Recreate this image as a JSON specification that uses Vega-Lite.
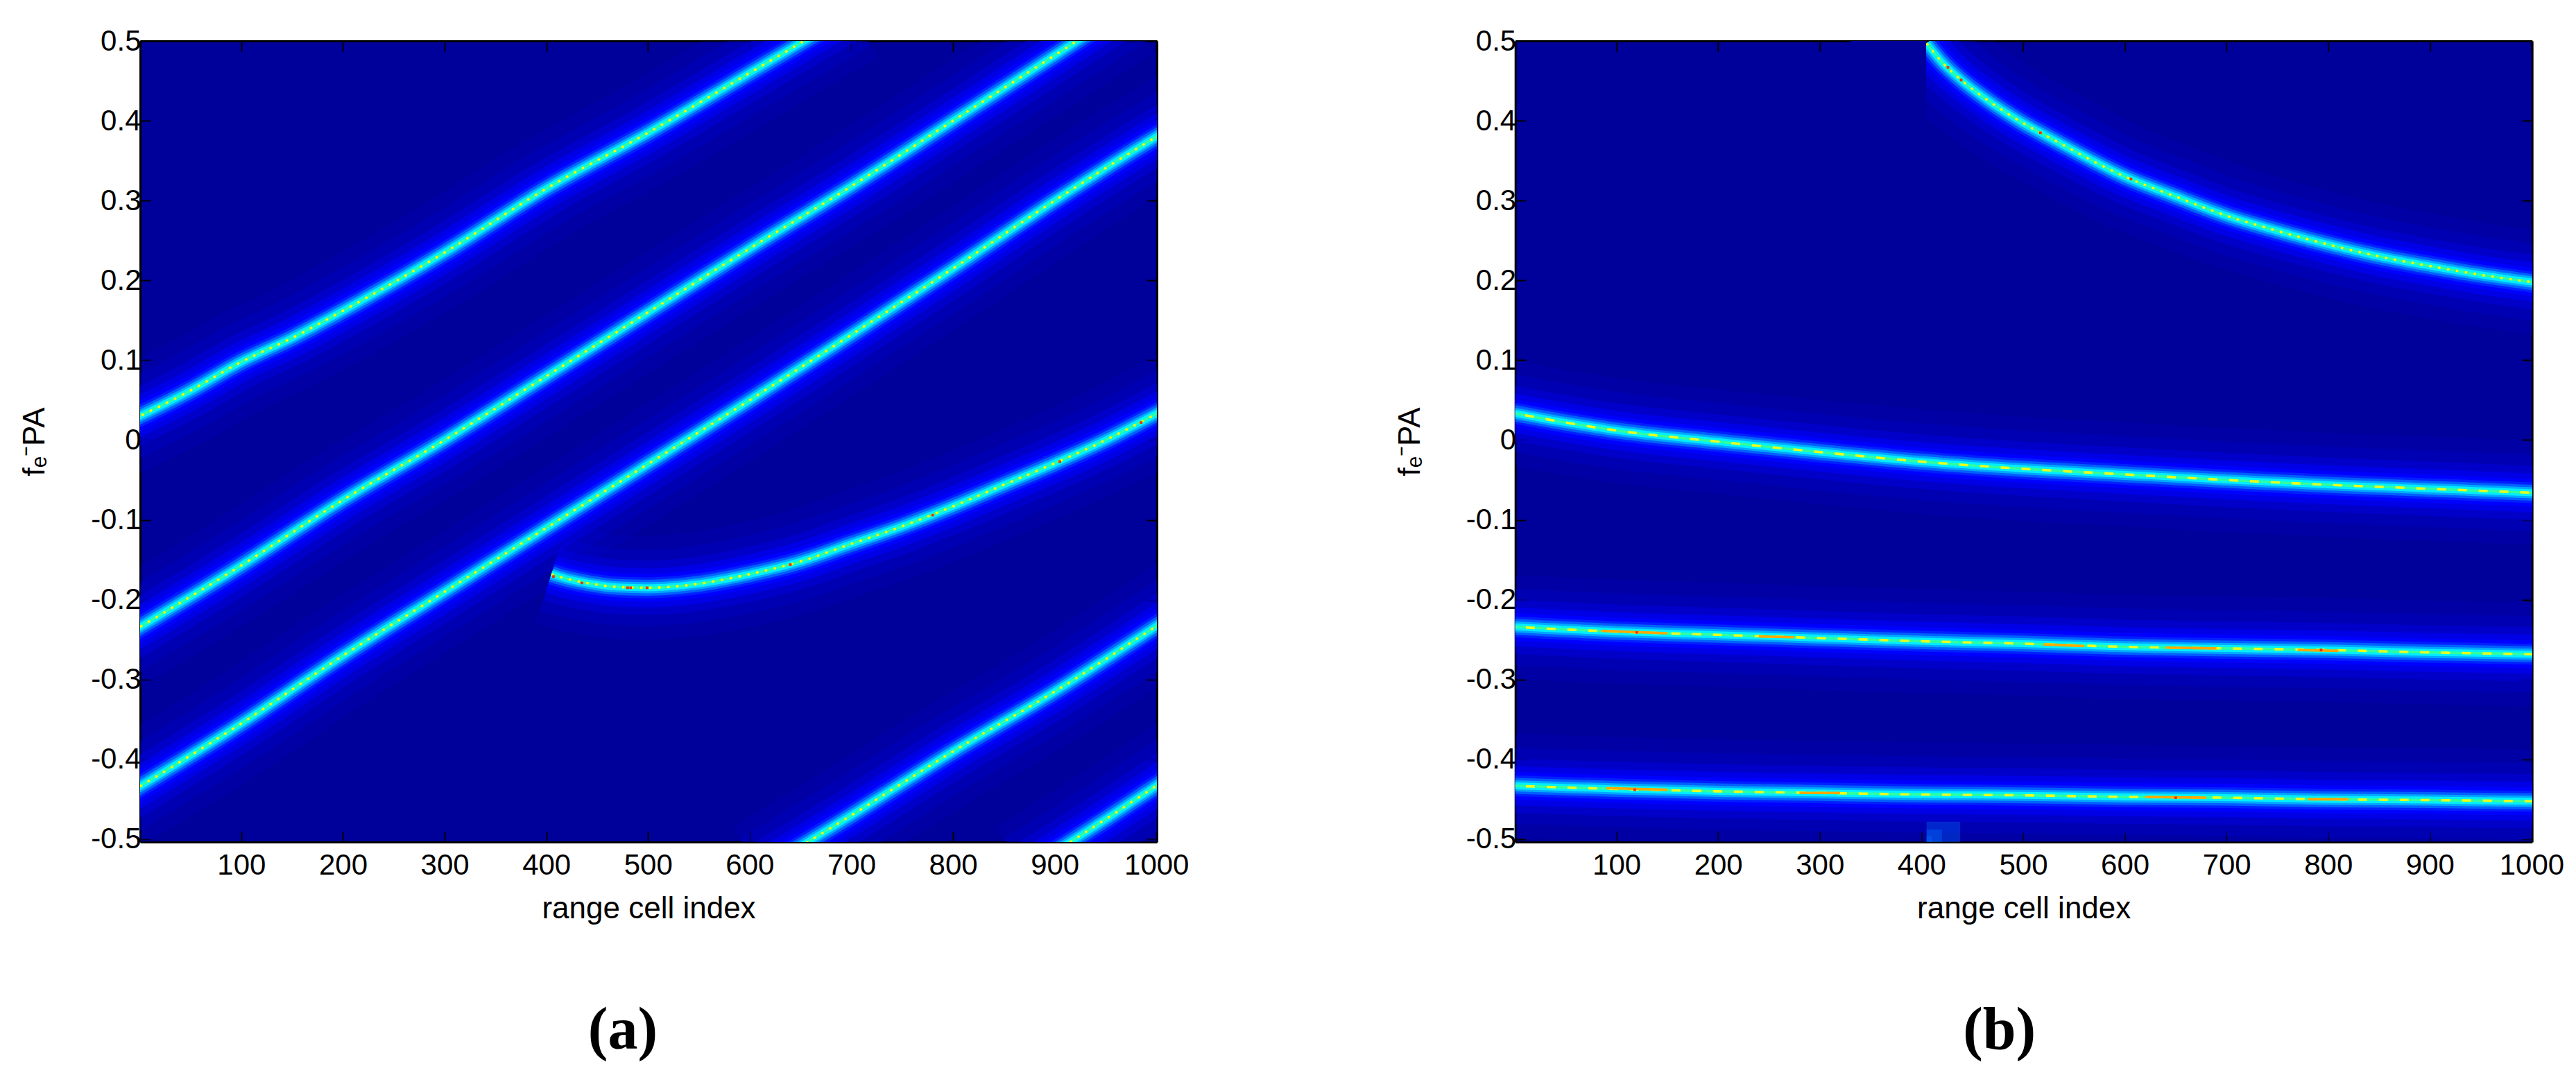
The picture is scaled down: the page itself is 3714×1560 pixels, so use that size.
{
  "$schema": "https://vega.github.io/schema/vega-lite/v6.json",
  "background": "white",
  "padding": {"left": 28, "top": 38, "right": 10, "bottom": 20},
  "config": {
    "view": {"stroke": null, "fill": "#00009a"},
    "line": {"strokeCap": "butt", "interpolate": "monotone"},
    "axis": {"labelFont": "Liberation Sans", "labelFontSize": 42, "labelColor": "black", "labelFontWeight": "normal", "titleFont": "Liberation Sans", "titleFontSize": 44, "titleFontWeight": "normal", "titleColor": "black", "tickColor": "black", "tickWidth": 2, "tickSize": -15, "domainColor": "black", "domainWidth": 3, "grid": false, "zindex": 1, "labelFlush": false, "labelOverlap": false, "format": "d"}
  },
  "datasets": {
    "linesA": [
      {"line": "A", "x": -30, "y": 0.012}, {"line": "A", "x": 50, "y": 0.062}, {"line": "A", "x": 100, "y": 0.098}, {"line": "A", "x": 150, "y": 0.128}, {"line": "A", "x": 200, "y": 0.162}, {"line": "A", "x": 300, "y": 0.235}, {"line": "A", "x": 400, "y": 0.315}, {"line": "A", "x": 500, "y": 0.385}, {"line": "A", "x": 600, "y": 0.46}, {"line": "A", "x": 700, "y": 0.535},
      {"line": "B", "x": -30, "y": -0.257}, {"line": "B", "x": 100, "y": -0.157}, {"line": "B", "x": 200, "y": -0.075}, {"line": "B", "x": 300, "y": 0.0}, {"line": "B", "x": 400, "y": 0.08}, {"line": "B", "x": 500, "y": 0.16}, {"line": "B", "x": 600, "y": 0.24}, {"line": "B", "x": 700, "y": 0.318}, {"line": "B", "x": 800, "y": 0.4}, {"line": "B", "x": 900, "y": 0.482}, {"line": "B", "x": 970, "y": 0.54},
      {"line": "C", "x": -30, "y": -0.457}, {"line": "C", "x": 100, "y": -0.355}, {"line": "C", "x": 200, "y": -0.27}, {"line": "C", "x": 300, "y": -0.19}, {"line": "C", "x": 400, "y": -0.11}, {"line": "C", "x": 500, "y": -0.03}, {"line": "C", "x": 600, "y": 0.05}, {"line": "C", "x": 700, "y": 0.132}, {"line": "C", "x": 800, "y": 0.215}, {"line": "C", "x": 900, "y": 0.3}, {"line": "C", "x": 1000, "y": 0.38}, {"line": "C", "x": 1040, "y": 0.41},
      {"line": "D", "x": 405, "y": -0.168}, {"line": "D", "x": 418, "y": -0.173}, {"line": "D", "x": 440, "y": -0.179}, {"line": "D", "x": 470, "y": -0.184}, {"line": "D", "x": 500, "y": -0.185}, {"line": "D", "x": 550, "y": -0.18}, {"line": "D", "x": 600, "y": -0.168}, {"line": "D", "x": 650, "y": -0.152}, {"line": "D", "x": 700, "y": -0.13}, {"line": "D", "x": 750, "y": -0.108}, {"line": "D", "x": 800, "y": -0.083}, {"line": "D", "x": 850, "y": -0.056}, {"line": "D", "x": 900, "y": -0.029}, {"line": "D", "x": 950, "y": 0.0}, {"line": "D", "x": 1000, "y": 0.033}, {"line": "D", "x": 1040, "y": 0.06},
      {"line": "E", "x": 610, "y": -0.54}, {"line": "E", "x": 700, "y": -0.47}, {"line": "E", "x": 800, "y": -0.39}, {"line": "E", "x": 900, "y": -0.315}, {"line": "E", "x": 1000, "y": -0.233}, {"line": "E", "x": 1040, "y": -0.2},
      {"line": "F", "x": 870, "y": -0.54}, {"line": "F", "x": 950, "y": -0.475}, {"line": "F", "x": 1000, "y": -0.433}, {"line": "F", "x": 1040, "y": -0.4}
    ],
    "linesB": [
      {"line": "R1", "x": 405, "y": 0.497}, {"line": "R1", "x": 419, "y": 0.475}, {"line": "R1", "x": 440, "y": 0.45}, {"line": "R1", "x": 467, "y": 0.424}, {"line": "R1", "x": 496, "y": 0.4}, {"line": "R1", "x": 533, "y": 0.374}, {"line": "R1", "x": 600, "y": 0.33}, {"line": "R1", "x": 650, "y": 0.305}, {"line": "R1", "x": 700, "y": 0.281}, {"line": "R1", "x": 750, "y": 0.262}, {"line": "R1", "x": 800, "y": 0.245}, {"line": "R1", "x": 850, "y": 0.23}, {"line": "R1", "x": 900, "y": 0.218}, {"line": "R1", "x": 950, "y": 0.207}, {"line": "R1", "x": 1000, "y": 0.198}, {"line": "R1", "x": 1040, "y": 0.191},
      {"line": "R2", "x": -30, "y": 0.041}, {"line": "R2", "x": 50, "y": 0.022}, {"line": "R2", "x": 100, "y": 0.012}, {"line": "R2", "x": 200, "y": -0.002}, {"line": "R2", "x": 300, "y": -0.015}, {"line": "R2", "x": 400, "y": -0.027}, {"line": "R2", "x": 500, "y": -0.036}, {"line": "R2", "x": 600, "y": -0.043}, {"line": "R2", "x": 700, "y": -0.05}, {"line": "R2", "x": 800, "y": -0.056}, {"line": "R2", "x": 900, "y": -0.061}, {"line": "R2", "x": 1040, "y": -0.068},
      {"line": "R3", "x": -30, "y": -0.232}, {"line": "R3", "x": 100, "y": -0.24}, {"line": "R3", "x": 200, "y": -0.244}, {"line": "R3", "x": 300, "y": -0.248}, {"line": "R3", "x": 400, "y": -0.252}, {"line": "R3", "x": 500, "y": -0.255}, {"line": "R3", "x": 600, "y": -0.259}, {"line": "R3", "x": 700, "y": -0.261}, {"line": "R3", "x": 800, "y": -0.263}, {"line": "R3", "x": 900, "y": -0.266}, {"line": "R3", "x": 1040, "y": -0.269},
      {"line": "R4", "x": -30, "y": -0.432}, {"line": "R4", "x": 100, "y": -0.437}, {"line": "R4", "x": 200, "y": -0.44}, {"line": "R4", "x": 300, "y": -0.442}, {"line": "R4", "x": 400, "y": -0.444}, {"line": "R4", "x": 500, "y": -0.445}, {"line": "R4", "x": 600, "y": -0.447}, {"line": "R4", "x": 700, "y": -0.448}, {"line": "R4", "x": 800, "y": -0.45}, {"line": "R4", "x": 900, "y": -0.451}, {"line": "R4", "x": 1040, "y": -0.453}
    ],
    "hotA": [
      {"x": 407, "y": -0.171}, {"x": 435, "y": -0.179}, {"x": 480, "y": -0.185}, {"x": 483, "y": -0.185}, {"x": 499, "y": -0.185}, {"x": 640, "y": -0.156}, {"x": 780, "y": -0.094}, {"x": 905, "y": -0.027}, {"x": 985, "y": 0.022}
    ],
    "hotB": [
      {"x": 426, "y": 0.467}, {"x": 439, "y": 0.451}, {"x": 517, "y": 0.385}, {"x": 606, "y": 0.327}, {"x": 120, "y": -0.241}, {"x": 118, "y": -0.438}, {"x": 650, "y": -0.448}, {"x": 793, "y": -0.263}
    ],
    "streaksB": [
      {"id": 1, "x": 85, "y": -0.239}, {"id": 1, "x": 150, "y": -0.242},
      {"id": 2, "x": 240, "y": -0.246}, {"id": 2, "x": 275, "y": -0.247},
      {"id": 3, "x": 520, "y": -0.256}, {"id": 3, "x": 560, "y": -0.258},
      {"id": 4, "x": 640, "y": -0.26}, {"id": 4, "x": 690, "y": -0.261},
      {"id": 5, "x": 770, "y": -0.263}, {"id": 5, "x": 810, "y": -0.264},
      {"id": 6, "x": 90, "y": -0.436}, {"id": 6, "x": 150, "y": -0.438},
      {"id": 7, "x": 280, "y": -0.442}, {"id": 7, "x": 320, "y": -0.442},
      {"id": 8, "x": 620, "y": -0.447}, {"id": 8, "x": 680, "y": -0.448},
      {"id": 9, "x": 780, "y": -0.45}, {"id": 9, "x": 820, "y": -0.45}
    ],
    "stripes": [
      {"x": 0.5, "x2": 15, "level": 2}, {"x": 15, "x2": 30, "level": 6}, {"x": 30, "x2": 52, "level": 3}, {"x": 52, "x2": 66, "level": 7}, {"x": 66, "x2": 90, "level": 4}, {"x": 90, "x2": 104, "level": 1}, {"x": 104, "x2": 130, "level": 5}, {"x": 130, "x2": 142, "level": 8}, {"x": 142, "x2": 170, "level": 3}, {"x": 170, "x2": 190, "level": 6}, {"x": 190, "x2": 214, "level": 2}, {"x": 214, "x2": 232, "level": 5}, {"x": 232, "x2": 260, "level": 3}, {"x": 260, "x2": 275, "level": 7}, {"x": 275, "x2": 300, "level": 2}, {"x": 300, "x2": 322, "level": 6}, {"x": 322, "x2": 345, "level": 4}, {"x": 345, "x2": 360, "level": 1}, {"x": 360, "x2": 388, "level": 5}, {"x": 388, "x2": 410, "level": 3},
      {"x": 410, "x2": 428, "level": 7}, {"x": 428, "x2": 452, "level": 2}, {"x": 452, "x2": 470, "level": 5}, {"x": 470, "x2": 496, "level": 3}, {"x": 496, "x2": 510, "level": 8}, {"x": 510, "x2": 536, "level": 2}, {"x": 536, "x2": 556, "level": 6}, {"x": 556, "x2": 580, "level": 3}, {"x": 580, "x2": 596, "level": 5}, {"x": 596, "x2": 622, "level": 1}, {"x": 622, "x2": 640, "level": 6}, {"x": 640, "x2": 668, "level": 3}, {"x": 668, "x2": 684, "level": 7}, {"x": 684, "x2": 710, "level": 2}, {"x": 710, "x2": 730, "level": 5}, {"x": 730, "x2": 752, "level": 3}, {"x": 752, "x2": 770, "level": 6}, {"x": 770, "x2": 796, "level": 2},
      {"x": 796, "x2": 812, "level": 7}, {"x": 812, "x2": 838, "level": 4}, {"x": 838, "x2": 856, "level": 1}, {"x": 856, "x2": 880, "level": 5}, {"x": 880, "x2": 902, "level": 3}, {"x": 902, "x2": 920, "level": 7}, {"x": 920, "x2": 946, "level": 2}, {"x": 946, "x2": 966, "level": 5}, {"x": 966, "x2": 984, "level": 3}, {"x": 984, "x2": 1000.5, "level": 6}
    ],
    "cutB": [
      {"x": 330, "x2": 404.5, "ya": 0.38, "yb": 0.5}
    ],
    "smearB": [
      {"x": 405, "x2": 438, "ya": -0.5035, "yb": -0.478},
      {"x": 405, "x2": 420, "ya": -0.5035, "yb": -0.488},
      {"x": 405, "x2": 410, "ya": -0.5035, "yb": -0.496}
    ]
  },
  "hconcat": [
    {
      "width": 1466,
      "height": 1155,
      "title": {"text": "(a)", "orient": "bottom", "anchor": "middle", "font": "Liberation Serif", "fontSize": 86, "fontWeight": "bold", "color": "black", "dx": -37, "offset": 112},
      "encoding": {
        "x": {"field": "x", "type": "quantitative", "scale": {"domain": [0.5, 1000.5], "nice": false, "zero": false}, "axis": null},
        "y": {"field": "y", "type": "quantitative", "scale": {"domain": [-0.5035, 0.5], "nice": false, "zero": false}, "axis": null},
        "detail": {"field": "line"}
      },
      "layer": [
        {
          "data": {"name": "stripes"},
          "mark": {"type": "bar", "clip": true},
          "encoding": {
            "x": {"field": "x", "type": "quantitative", "scale": {"domain": [0.5, 1000.5], "nice": false, "zero": false}, "axis": {"orient": "bottom", "values": [100, 200, 300, 400, 500, 600, 700, 800, 900, 1000], "title": "range cell index", "labelPadding": 28, "titlePadding": 20}},
            "x2": {"field": "x2"},
            "y": {"datum": 0.5, "type": "quantitative", "scale": {"domain": [-0.5035, 0.5], "nice": false, "zero": false}, "axis": {"orient": "left", "values": [-0.5, -0.4, -0.3, -0.2, -0.1, 0, 0.1, 0.2, 0.3, 0.4, 0.5], "labelExpr": "'' + datum.value", "title": "fₑ⁻PA", "labelPadding": 14, "titlePadding": 58}},
            "y2": {"datum": -0.5035},
            "detail": {"field": "level"},
            "color": {"field": "level", "type": "quantitative", "scale": {"domain": [1, 8], "range": ["#00008e", "#0000a8"]}, "legend": null}
          }
        },
        {"data": {"name": "linesA"}, "mark": {"type": "line", "clip": true, "strokeWidth": 150, "color": "#0000c8", "opacity": 0.22}},
        {"data": {"name": "linesA"}, "mark": {"type": "line", "clip": true, "strokeWidth": 110, "color": "#0000d0", "opacity": 0.35}},
        {"data": {"name": "linesA"}, "mark": {"type": "line", "clip": true, "strokeWidth": 78, "color": "#0000e0", "opacity": 0.5}},
        {"data": {"name": "linesA"}, "mark": {"type": "line", "clip": true, "strokeWidth": 56, "color": "#0000f0", "opacity": 0.75}},
        {"data": {"name": "linesA"}, "mark": {"type": "line", "clip": true, "strokeWidth": 40, "color": "#0000ff"}},
        {"data": {"name": "linesA"}, "mark": {"type": "line", "clip": true, "strokeWidth": 30, "color": "#0020ff"}},
        {"data": {"name": "linesA"}, "mark": {"type": "line", "clip": true, "strokeWidth": 23, "color": "#0060ff"}},
        {"data": {"name": "linesA"}, "mark": {"type": "line", "clip": true, "strokeWidth": 16, "color": "#00a8ff"}},
        {"data": {"name": "linesA"}, "mark": {"type": "line", "clip": true, "strokeWidth": 10, "color": "#00eeff"}},
        {"data": {"name": "linesA"}, "mark": {"type": "line", "clip": true, "strokeWidth": 3.6, "color": "#30ffa0"}},
        {"data": {"name": "linesA"}, "mark": {"type": "line", "clip": true, "strokeWidth": 3.6, "color": "#f0ff10", "strokeDash": [3.4, 9.6]}},
        {
          "data": {"name": "hotA"},
          "mark": {"type": "point", "shape": "square", "filled": true, "size": 14, "color": "#f03000", "opacity": 1},
          "encoding": {
            "x": {"field": "x", "type": "quantitative", "scale": {"domain": [0.5, 1000.5], "nice": false, "zero": false}, "axis": {"orient": "top", "values": [100, 200, 300, 400, 500, 600, 700, 800, 900, 1000], "labels": false, "title": null}},
            "y": {"field": "y", "type": "quantitative", "scale": {"domain": [-0.5035, 0.5], "nice": false, "zero": false}, "axis": {"orient": "right", "values": [-0.5, -0.4, -0.3, -0.2, -0.1, 0, 0.1, 0.2, 0.3, 0.4, 0.5], "labels": false, "title": null}},
            "detail": {"field": "x"}
          }
        }
      ],
      "resolve": {"axis": {"x": "independent", "y": "independent"}}
    },
    {
      "width": 1466,
      "height": 1155,
      "title": {"text": "(b)", "orient": "bottom", "anchor": "middle", "font": "Liberation Serif", "fontSize": 86, "fontWeight": "bold", "color": "black", "dx": -35, "offset": 112},
      "encoding": {
        "x": {"field": "x", "type": "quantitative", "scale": {"domain": [0.5, 1000.5], "nice": false, "zero": false}, "axis": null},
        "y": {"field": "y", "type": "quantitative", "scale": {"domain": [-0.5035, 0.5], "nice": false, "zero": false}, "axis": null},
        "detail": {"field": "line"}
      },
      "layer": [
        {
          "data": {"name": "stripes"},
          "mark": {"type": "bar", "clip": true},
          "encoding": {
            "x": {"field": "x", "type": "quantitative", "scale": {"domain": [0.5, 1000.5], "nice": false, "zero": false}, "axis": {"orient": "bottom", "values": [100, 200, 300, 400, 500, 600, 700, 800, 900, 1000], "title": "range cell index", "labelPadding": 28, "titlePadding": 20}},
            "x2": {"field": "x2"},
            "y": {"datum": 0.5, "type": "quantitative", "scale": {"domain": [-0.5035, 0.5], "nice": false, "zero": false}, "axis": {"orient": "left", "values": [-0.5, -0.4, -0.3, -0.2, -0.1, 0, 0.1, 0.2, 0.3, 0.4, 0.5], "labelExpr": "'' + datum.value", "title": "fₑ⁻PA", "labelPadding": 14, "titlePadding": 58}},
            "y2": {"datum": -0.5035},
            "detail": {"field": "level"},
            "color": {"field": "level", "type": "quantitative", "scale": {"domain": [1, 8], "range": ["#00008e", "#0000a8"]}, "legend": null}
          }
        },
        {"data": {"name": "linesB"}, "mark": {"type": "line", "clip": true, "strokeWidth": 150, "color": "#0000c8", "opacity": 0.22}},
        {"data": {"name": "linesB"}, "mark": {"type": "line", "clip": true, "strokeWidth": 110, "color": "#0000d0", "opacity": 0.35}},
        {"data": {"name": "linesB"}, "mark": {"type": "line", "clip": true, "strokeWidth": 78, "color": "#0000e0", "opacity": 0.5}},
        {"data": {"name": "linesB"}, "mark": {"type": "line", "clip": true, "strokeWidth": 56, "color": "#0000f0", "opacity": 0.75}},
        {"data": {"name": "linesB"}, "mark": {"type": "line", "clip": true, "strokeWidth": 40, "color": "#0000ff"}},
        {"data": {"name": "linesB"}, "mark": {"type": "line", "clip": true, "strokeWidth": 30, "color": "#0020ff"}},
        {"data": {"name": "linesB"}, "mark": {"type": "line", "clip": true, "strokeWidth": 23, "color": "#0060ff"}},
        {"data": {"name": "linesB"}, "mark": {"type": "line", "clip": true, "strokeWidth": 16, "color": "#00a8ff"}},
        {"data": {"name": "linesB"}, "mark": {"type": "line", "clip": true, "strokeWidth": 10, "color": "#00eeff"}},
        {"data": {"name": "linesB"}, "mark": {"type": "line", "clip": true, "strokeWidth": 3.6, "color": "#30ffa0"}},
        {"data": {"name": "linesB"}, "transform": [{"filter": "datum.line === 'R1'"}], "mark": {"type": "line", "clip": true, "strokeWidth": 3.6, "color": "#f0ff10", "strokeDash": [3.4, 9.6]}},
        {"data": {"name": "linesB"}, "transform": [{"filter": "datum.line !== 'R1'"}], "mark": {"type": "line", "clip": true, "strokeWidth": 3.6, "color": "#e8ff20", "strokeDash": [13, 17]}},
        {"data": {"name": "streaksB"}, "mark": {"type": "line", "clip": true, "strokeWidth": 3.6, "color": "#ffa800"}, "encoding": {"detail": {"field": "id"}}},
        {"data": {"name": "cutB"}, "mark": {"type": "rect", "color": "#00009a", "clip": true}, "encoding": {"y": {"field": "ya", "type": "quantitative"}, "y2": {"field": "yb"}, "x2": {"field": "x2"}, "detail": {"field": "yb"}}},
        {"data": {"name": "smearB"}, "mark": {"type": "rect", "color": "#0070ff", "opacity": 0.35, "clip": true}, "encoding": {"y": {"field": "ya", "type": "quantitative"}, "y2": {"field": "yb"}, "x2": {"field": "x2"}, "detail": {"field": "yb"}}},
        {
          "data": {"name": "hotB"},
          "mark": {"type": "point", "shape": "square", "filled": true, "size": 14, "color": "#f03000", "opacity": 1},
          "encoding": {
            "x": {"field": "x", "type": "quantitative", "scale": {"domain": [0.5, 1000.5], "nice": false, "zero": false}, "axis": {"orient": "top", "values": [100, 200, 300, 400, 500, 600, 700, 800, 900, 1000], "labels": false, "title": null}},
            "y": {"field": "y", "type": "quantitative", "scale": {"domain": [-0.5035, 0.5], "nice": false, "zero": false}, "axis": {"orient": "right", "values": [-0.5, -0.4, -0.3, -0.2, -0.1, 0, 0.1, 0.2, 0.3, 0.4, 0.5], "labels": false, "title": null}},
            "detail": {"field": "x"}
          }
        }
      ],
      "resolve": {"axis": {"x": "independent", "y": "independent"}}
    }
  ],
  "spacing": 516.7,
  "bounds": "flush"
}
